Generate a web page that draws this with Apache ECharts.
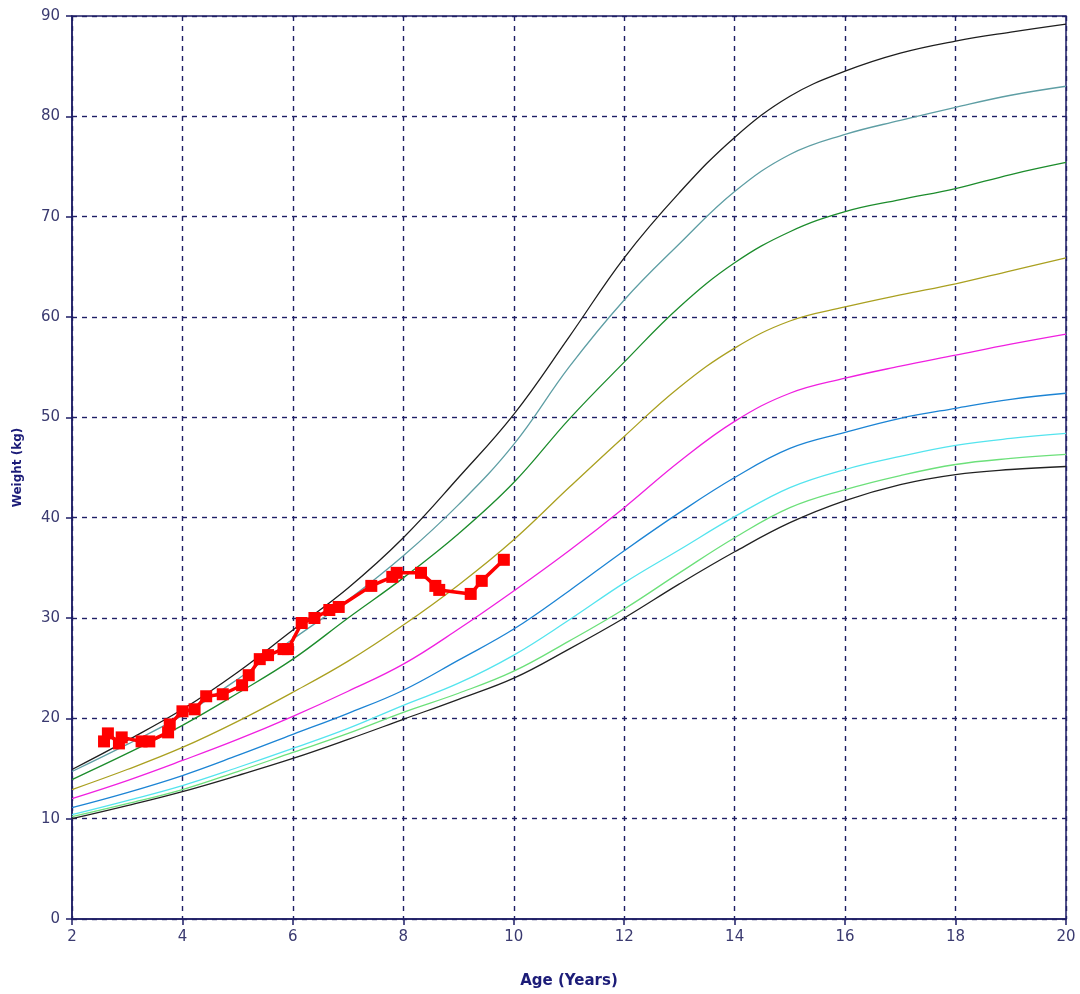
<!DOCTYPE html>
<html lang="en">
<head>
    <meta charset="UTF-8">
    <title>Weight for age</title>
    <script src="https://cdn.jsdelivr.net/npm/echarts@6/dist/echarts.min.js"></script>
    <style>
        body { margin: 0; background: #fff; }
        #chart { width: 1080px; height: 994px; }
    </style>
</head>
<body>
    <div id="chart"></div>
    <script>
        // percentile curves, read at whole years
        var ages = [2, 3, 4, 5, 6, 7, 8, 9, 10, 11, 12, 13, 14, 15, 16, 17, 18, 19, 20];
        var p97 = [14.9, 17.8, 20.9, 24.6, 28.8, 33.0, 38.0, 44.0, 50.3, 58.0, 65.9, 72.4, 77.9, 82.0, 84.5, 86.3, 87.5, 88.4, 89.2];
        var p95 = [14.7, 17.4, 20.3, 23.9, 27.9, 31.8, 36.2, 41.3, 47.3, 55.0, 61.7, 67.3, 72.5, 76.2, 78.2, 79.6, 80.9, 82.1, 83.0];
        var p90 = [13.9, 16.5, 19.3, 22.5, 25.9, 30.0, 34.0, 38.4, 43.5, 49.8, 55.5, 61.0, 65.4, 68.5, 70.5, 71.7, 72.8, 74.2, 75.4];
        var p75 = [12.9, 14.9, 17.1, 19.7, 22.6, 25.7, 29.3, 33.3, 37.8, 43.0, 48.1, 53.0, 56.9, 59.6, 61.0, 62.2, 63.3, 64.6, 65.9];
        var p50 = [12.0, 13.8, 15.8, 17.9, 20.2, 22.7, 25.4, 28.9, 32.7, 36.7, 41.0, 45.6, 49.6, 52.4, 53.9, 55.1, 56.2, 57.3, 58.3];
        var p25 = [11.1, 12.6, 14.3, 16.3, 18.4, 20.5, 22.8, 25.8, 28.9, 32.7, 36.7, 40.5, 44.0, 46.9, 48.5, 49.9, 50.9, 51.8, 52.4];
        var p10 = [10.4, 11.8, 13.3, 15.1, 17.0, 19.0, 21.3, 23.5, 26.3, 29.8, 33.5, 36.8, 40.1, 43.0, 44.8, 46.1, 47.2, 47.9, 48.4];
        var p5 = [10.2, 11.5, 12.9, 14.7, 16.6, 18.5, 20.6, 22.5, 24.7, 27.7, 30.9, 34.5, 38.0, 41.0, 42.8, 44.2, 45.3, 45.9, 46.3];
        var p3 = [10.0, 11.3, 12.7, 14.3, 16.0, 17.9, 19.9, 21.9, 24.0, 26.9, 30.0, 33.4, 36.6, 39.5, 41.7, 43.3, 44.3, 44.8, 45.1];

        // measured child
        var childAge = [2.58, 2.65, 2.85, 2.9, 3.26, 3.4, 3.74, 3.77, 4.0, 4.22, 4.43, 4.73, 5.08, 5.2, 5.4, 5.55, 5.83, 5.91,
                        6.16, 6.39, 6.66, 6.83, 7.42, 7.8, 7.88, 8.32, 8.58, 8.65, 9.22, 9.42, 9.82];
        var childWeight = [17.7, 18.5, 17.5, 18.1, 17.7, 17.7, 18.6, 19.4, 20.7, 20.9, 22.2, 22.4, 23.3, 24.3, 25.9, 26.3, 26.9, 26.9,
                           29.5, 30.0, 30.8, 31.1, 33.2, 34.1, 34.5, 34.5, 33.2, 32.8, 32.4, 33.7, 35.8];

        var xTicks = [2, 4, 6, 8, 10, 12, 14, 16, 18, 20];
        var yTicks = [0, 10, 20, 30, 40, 50, 60, 70, 80, 90];

        var curves = [
            { v: p97, c: '#1e1e1e' },
            { v: p95, c: '#5e9ea4' },
            { v: p90, c: '#1c8c2c' },
            { v: p75, c: '#aaa020' },
            { v: p50, c: '#f020e0' },
            { v: p25, c: '#1c84d4' },
            { v: p10, c: '#54e4ee' },
            { v: p5, c: '#6ce07a' },
            { v: p3, c: '#222222' }
        ];

        function pairs(xs, ys) {
            return xs.map(function (x, i) { return [x, ys[i]]; });
        }

        var navy = '#1e1e66';
        var series = curves.map(function (cv) {
            return {
                type: 'line',
                data: pairs(ages, cv.v),
                smooth: 0.4,
                showSymbol: false,
                lineStyle: { color: cv.c, width: 1.3 },
                silent: true
            };
        });
        series.push({
            type: 'line',
            data: pairs(childAge, childWeight),
            symbol: 'rect',
            symbolSize: 12,
            itemStyle: { color: '#ff0000' },
            lineStyle: { color: '#ff0000', width: 3.5 },
            z: 5
        });

        var chart = echarts.init(document.getElementById('chart'));
        chart.setOption({
            animation: false,
            grid: {
                left: 72, right: 14, top: 16, bottom: 74,
                show: true, borderColor: navy, borderWidth: 1.5
            },
            xAxis: {
                type: 'value', min: 2, max: 20, interval: 2,
                name: 'Age (Years)', nameLocation: 'middle', nameGap: 55,
                nameTextStyle: { color: '#1c1c78', fontWeight: 'bold', fontSize: 15, fontFamily: 'DejaVu Sans' },
                axisLine: { lineStyle: { color: navy, width: 1.5 } },
                axisTick: { show: true, inside: false, length: 6, lineStyle: { color: navy, width: 1.5 } },
                axisLabel: {
                    color: '#3a3a70', fontSize: 15, fontFamily: 'DejaVu Sans', margin: 11,
                    formatter: function (v) { return xTicks.indexOf(v) >= 0 ? String(v) : ''; }
                },
                splitLine: { show: true, lineStyle: { color: navy, type: [5, 5], width: 1.4 } }
            },
            yAxis: {
                type: 'value', min: 0, max: 90, interval: 10,
                name: 'Weight (kg)', nameLocation: 'middle', nameGap: 48, nameRotate: 90,
                nameTextStyle: { color: '#1c1c78', fontWeight: 'bold', fontSize: 12, fontFamily: 'DejaVu Sans' },
                axisLine: { show: true, lineStyle: { color: navy, width: 1.5 } },
                axisTick: { show: true, length: 6, lineStyle: { color: navy, width: 1.5 } },
                axisLabel: {
                    color: '#3a3a70', fontSize: 15, fontFamily: 'DejaVu Sans', margin: 12,
                    formatter: function (v) { return yTicks.indexOf(v) >= 0 ? String(v) : ''; }
                },
                splitLine: { show: true, lineStyle: { color: navy, type: [5, 5], width: 1.4 } }
            },
            series: series
        });
    </script>
</body>
</html>
